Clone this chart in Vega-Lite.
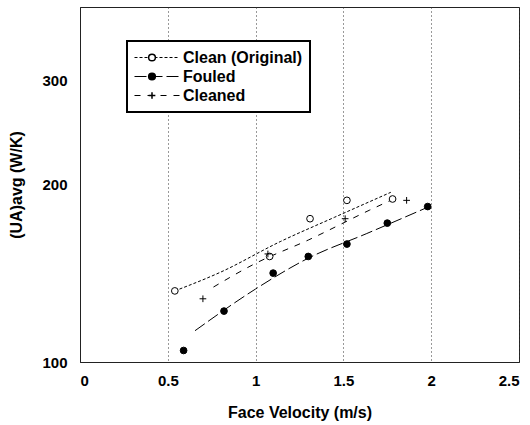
{
  "$schema": "https://vega.github.io/schema/vega-lite/v6.json",
  "width": 439,
  "height": 355,
  "autosize": {"type": "none"},
  "padding": {"left": 80, "top": 7, "right": 11, "bottom": 63},
  "background": "white",
  "config": {
    "font": "Liberation Sans",
    "view": {"stroke": "#222", "strokeWidth": 1},
    "axis": {
      "labelFont": "Liberation Sans",
      "labelFontWeight": "bold",
      "labelFontSize": 15,
      "labelColor": "black",
      "titleFont": "Liberation Sans",
      "titleFontWeight": "bold",
      "titleFontSize": 16,
      "titleColor": "black",
      "domainColor": "#222",
      "ticks": false
    }
  },
  "data": {
    "values": [
      {"series": "Clean (Original)", "kind": "point", "v": 0.54, "ua": 132},
      {"series": "Clean (Original)", "kind": "point", "v": 1.08, "ua": 151},
      {"series": "Clean (Original)", "kind": "point", "v": 1.31, "ua": 175},
      {"series": "Clean (Original)", "kind": "point", "v": 1.52, "ua": 188},
      {"series": "Clean (Original)", "kind": "point", "v": 1.78, "ua": 189},
      {"series": "Fouled", "kind": "point", "v": 0.59, "ua": 104.6},
      {"series": "Fouled", "kind": "point", "v": 0.82, "ua": 122},
      {"series": "Fouled", "kind": "point", "v": 1.1, "ua": 141.5},
      {"series": "Fouled", "kind": "point", "v": 1.3, "ua": 151},
      {"series": "Fouled", "kind": "point", "v": 1.52, "ua": 158.5},
      {"series": "Fouled", "kind": "point", "v": 1.75, "ua": 172},
      {"series": "Fouled", "kind": "point", "v": 1.98, "ua": 183.5},
      {"series": "Cleaned", "kind": "point", "v": 0.7, "ua": 128},
      {"series": "Cleaned", "kind": "point", "v": 1.07, "ua": 152.5},
      {"series": "Cleaned", "kind": "point", "v": 1.51, "ua": 175},
      {"series": "Cleaned", "kind": "point", "v": 1.86, "ua": 188},
      {"series": "Clean (Original)", "kind": "fit", "v": 0.54, "ua": 132},
      {"series": "Clean (Original)", "kind": "fit", "v": 0.8, "ua": 142},
      {"series": "Clean (Original)", "kind": "fit", "v": 1.14, "ua": 160},
      {"series": "Clean (Original)", "kind": "fit", "v": 1.45, "ua": 176},
      {"series": "Clean (Original)", "kind": "fit", "v": 1.77, "ua": 194},
      {"series": "Fouled", "kind": "fit", "v": 0.655, "ua": 113},
      {"series": "Fouled", "kind": "fit", "v": 1.0, "ua": 133},
      {"series": "Fouled", "kind": "fit", "v": 1.3, "ua": 150},
      {"series": "Fouled", "kind": "fit", "v": 1.63, "ua": 165},
      {"series": "Fouled", "kind": "fit", "v": 1.98, "ua": 183},
      {"series": "Cleaned", "kind": "fit", "v": 0.76, "ua": 134},
      {"series": "Cleaned", "kind": "fit", "v": 1.0, "ua": 147},
      {"series": "Cleaned", "kind": "fit", "v": 1.3, "ua": 161},
      {"series": "Cleaned", "kind": "fit", "v": 1.65, "ua": 181},
      {"series": "Cleaned", "kind": "fit", "v": 1.82, "ua": 191}
    ]
  },
  "encoding": {
    "x": {
      "field": "v",
      "type": "quantitative",
      "scale": {"domain": [0, 2.5], "nice": false, "zero": false},
      "axis": {
        "title": "Face Velocity (m/s)",
        "values": [0, 0.5, 1, 1.5, 2, 2.5],
        "format": "~g",
        "labelPadding": 11,
        "titlePadding": 16,
        "grid": true,
        "gridColor": "#333",
        "gridDash": [1, 3],
        "gridWidth": 1
      }
    },
    "y": {
      "field": "ua",
      "type": "quantitative",
      "scale": {"type": "log", "domain": [100, 400], "nice": false},
      "axis": {
        "title": "(UA)avg (W/K)",
        "values": [100, 200, 300],
        "format": "d",
        "labelPadding": 13,
        "titlePadding": 17,
        "grid": false
      }
    }
  },
  "layer": [
    {
      "transform": [{"filter": "datum.kind === 'fit'"}],
      "mark": {"type": "line", "color": "black", "strokeWidth": 1, "interpolate": "monotone"},
      "encoding": {
        "strokeDash": {
          "field": "series",
          "type": "nominal",
          "sort": null,
          "scale": {"range": [[3, 2], [12, 4], [6, 7]]},
          "legend": {
            "title": null,
            "orient": "none",
            "legendX": 47,
            "legendY": 34,
            "padding": 7,
            "clipHeight": 19,
            "rowPadding": 0,
            "symbolType": "stroke",
            "symbolSize": 2025,
            "symbolStrokeWidth": 1,
            "symbolStrokeColor": "black",
            "labelFont": "Liberation Sans",
            "labelFontWeight": "bold",
            "labelFontSize": 16,
            "labelColor": "black",
            "labelOffset": 3,
            "labelLimit": 300,
            "strokeColor": "black",
            "fillColor": "white",
            "encode": {"legend": {"update": {"strokeWidth": {"value": 2}}}}
          }
        }
      }
    },
    {
      "transform": [{"filter": "datum.kind === 'point'"}],
      "mark": {"type": "point", "filled": false, "color": "black", "stroke": "black", "strokeWidth": 1, "size": 45, "opacity": 1},
      "encoding": {
        "shape": {
          "field": "series",
          "type": "nominal",
          "scale": {
            "domain": ["Clean (Original)", "Fouled", "Cleaned"],
            "range": ["circle", "circle", "M-1,0L1,0M0,-1L0,1"]
          },
          "legend": {
            "title": null,
            "orient": "none",
            "legendX": 47,
            "legendY": 34,
            "padding": 7,
            "clipHeight": 19,
            "rowPadding": 0,
            "symbolSize": 45,
            "symbolOffset": 10,
            "symbolOpacity": 1,
            "labelFontSize": 16,
            "labelExpr": "''",
            "labelOffset": 3,
            "encode": {"symbols": {"update": {"stroke": {"value": "black"}, "strokeWidth": {"value": 1}, "strokeOpacity": {"value": 1}}}}
          }
        },
        "fill": {
          "field": "series",
          "type": "nominal",
          "scale": {
            "domain": ["Clean (Original)", "Fouled", "Cleaned"],
            "range": ["white", "black", "white"]
          },
          "legend": {
            "title": null,
            "orient": "none",
            "legendX": 47,
            "legendY": 34,
            "padding": 7,
            "clipHeight": 19,
            "rowPadding": 0,
            "symbolSize": 45,
            "symbolOffset": 10,
            "symbolOpacity": 1,
            "labelFontSize": 16,
            "labelExpr": "''",
            "labelOffset": 3,
            "encode": {"symbols": {"update": {"stroke": {"value": "black"}, "strokeWidth": {"value": 1}, "strokeOpacity": {"value": 1}}}}
          }
        }
      }
    }
  ]
}
